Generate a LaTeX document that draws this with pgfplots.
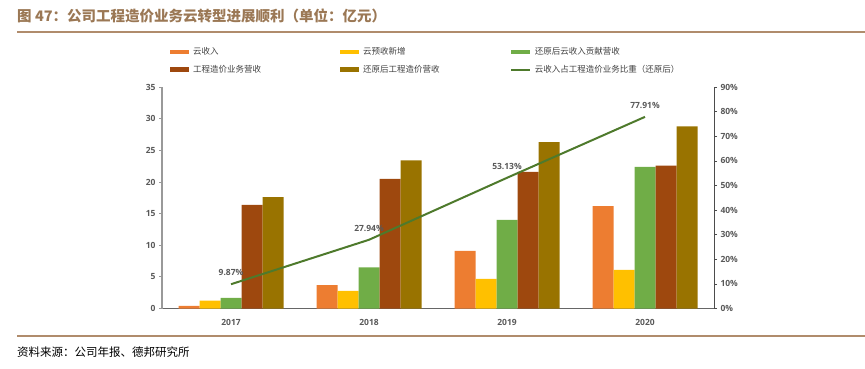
\documentclass[border=0pt]{standalone}
\usepackage{pgfplots}
\pgfplotsset{compat=1.18}
\usepackage{fontspec}
\setmainfont{Noto Sans CJK SC}
\newfontfamily\cjk{Noto Sans CJK SC}
\newfontfamily\lat{Open Sans}
\definecolor{c1}{RGB}{237,125,49}
\definecolor{c2}{RGB}{255,192,0}
\definecolor{c3}{RGB}{112,173,71}
\definecolor{c4}{RGB}{158,72,14}
\definecolor{c5}{RGB}{153,115,0}
\definecolor{cl}{RGB}{78,122,44}
\definecolor{titlec}{RGB}{155,120,85}
\definecolor{tline}{RGB}{176,140,108}
\definecolor{tickc}{RGB}{89,89,89}
\definecolor{legc}{RGB}{64,64,64}
\begin{document}
\begin{tikzpicture}[x=1pt,y=1pt]
\path[use as bounding box] (0,0) rectangle (865,368);
\node[anchor=west, text=titlec, font=\cjk\bfseries\fontsize{14.5}{16}\selectfont, inner sep=0] at (17,352) {图 47：公司工程造价业务云转型进展顺利（单位：亿元）};
\draw[tline, line width=1.8pt] (17,336) -- (865,336);
\draw[tline, line width=1.2pt] (17,32) -- (865,32);
\node[anchor=west, text=black, font=\cjk\fontsize{11.5}{13}\selectfont, inner sep=0] at (17,15.5) {资料来源：公司年报、德邦研究所};

\begin{axis}[
  scale only axis, width=552pt, height=221.4pt,
  at={(162pt,59.5pt)}, anchor=south west,
  xmin=-0.5, xmax=3.5, ymin=0, ymax=35,
  ytick={0,5,...,35}, xtick={0,1,2,3}, xticklabels={2017,2018,2019,2020},
  ybar=0pt, bar width=21pt,
  axis x line*=bottom, axis y line*=left,
  x axis line style={draw=gray!80!black, line width=1.6pt, -},
  y axis line style={draw=gray!80, line width=1.4pt, -},
  xtick style={draw=none}, ytick style={draw=gray!80, line width=0.8pt},
  major tick length=3pt, tick align=outside,
  yticklabel style={font=\lat\bfseries\fontsize{8.5}{10}\selectfont, text=tickc},
  xticklabel style={font=\lat\bfseries\fontsize{8.5}{10}\selectfont, text=tickc, yshift=-4pt},
  /pgf/number format/assume math mode=true,
  clip=false,
]
\addplot[fill=c1, draw=none] coordinates {(0,0.4) (1,3.7) (2,9.1) (3,16.2)};
\addplot[fill=c2, draw=none] coordinates {(0,1.25) (1,2.8) (2,4.7) (3,6.1)};
\addplot[fill=c3, draw=none] coordinates {(0,1.7) (1,6.5) (2,14.0) (3,22.4)};
\addplot[fill=c4, draw=none] coordinates {(0,16.4) (1,20.5) (2,21.6) (3,22.6)};
\addplot[fill=c5, draw=none] coordinates {(0,17.6) (1,23.4) (2,26.3) (3,28.8)};
\end{axis}

\begin{axis}[
  scale only axis, width=552pt, height=221.4pt,
  at={(162pt,59.5pt)}, anchor=south west,
  xmin=-0.5, xmax=3.5, ymin=0, ymax=90,
  ytick={0,10,...,90}, yticklabel={\pgfmathprintnumber{\tick}\%},
  axis x line=none, axis y line*=right,
  y axis line style={draw=gray!60!black, line width=0.8pt, -},
  ytick style={draw=gray!60!black, line width=0.6pt},
  major tick length=3pt, tick align=outside,
  yticklabel style={font=\lat\bfseries\fontsize{8.5}{10}\selectfont, text=tickc},
  /pgf/number format/assume math mode=true,
  clip=false,
  legend columns=3,
  legend style={at={(8pt,263pt)}, anchor=north west, draw=none, fill=none,
    font=\cjk\fontsize{8.5}{10}\selectfont, text=legc,
    inner sep=0pt, row sep=5pt,
    /tikz/every odd column/.append style={column sep=2pt}},
  legend cell align=left,
]
\addlegendimage{area legend, fill=c1, draw=none, legend image code/.code={\fill[c1] (0pt,-2.3pt) rectangle (19pt,2.3pt);}}
\addlegendentry{\makebox[145pt][l]{云收入}}
\addlegendimage{area legend, fill=c2, draw=none, legend image code/.code={\fill[c2] (0pt,-2.3pt) rectangle (19pt,2.3pt);}}
\addlegendentry{\makebox[145pt][l]{云预收新增}}
\addlegendimage{area legend, fill=c3, draw=none, legend image code/.code={\fill[c3] (0pt,-2.3pt) rectangle (19pt,2.3pt);}}
\addlegendentry{\makebox[145pt][l]{还原后云收入贡献营收}}
\addlegendimage{area legend, fill=c4, draw=none, legend image code/.code={\fill[c4] (0pt,-2.3pt) rectangle (19pt,2.3pt);}}
\addlegendentry{\makebox[145pt][l]{工程造价业务营收}}
\addlegendimage{area legend, fill=c5, draw=none, legend image code/.code={\fill[c5] (0pt,-2.3pt) rectangle (19pt,2.3pt);}}
\addlegendentry{\makebox[145pt][l]{还原后工程造价营收}}
\addplot[cl, line width=2pt, mark=none,
  legend image code/.code={\draw[cl, line width=1.6pt] (0pt,0pt) -- (19pt,0pt);},
  nodes near coords, point meta=explicit symbolic,
  every node near coord/.append style={font=\lat\bfseries\fontsize{8.5}{10}\selectfont, text=tickc, anchor=south, yshift=4pt}]
  coordinates {(0,9.87) [9.87\%] (1,27.94) [27.94\%] (2,53.13) [53.13\%] (3,77.91) [77.91\%]};
\addlegendentry{云收入占工程造价业务比重（还原后）}
\end{axis}
\end{tikzpicture}
\end{document}
